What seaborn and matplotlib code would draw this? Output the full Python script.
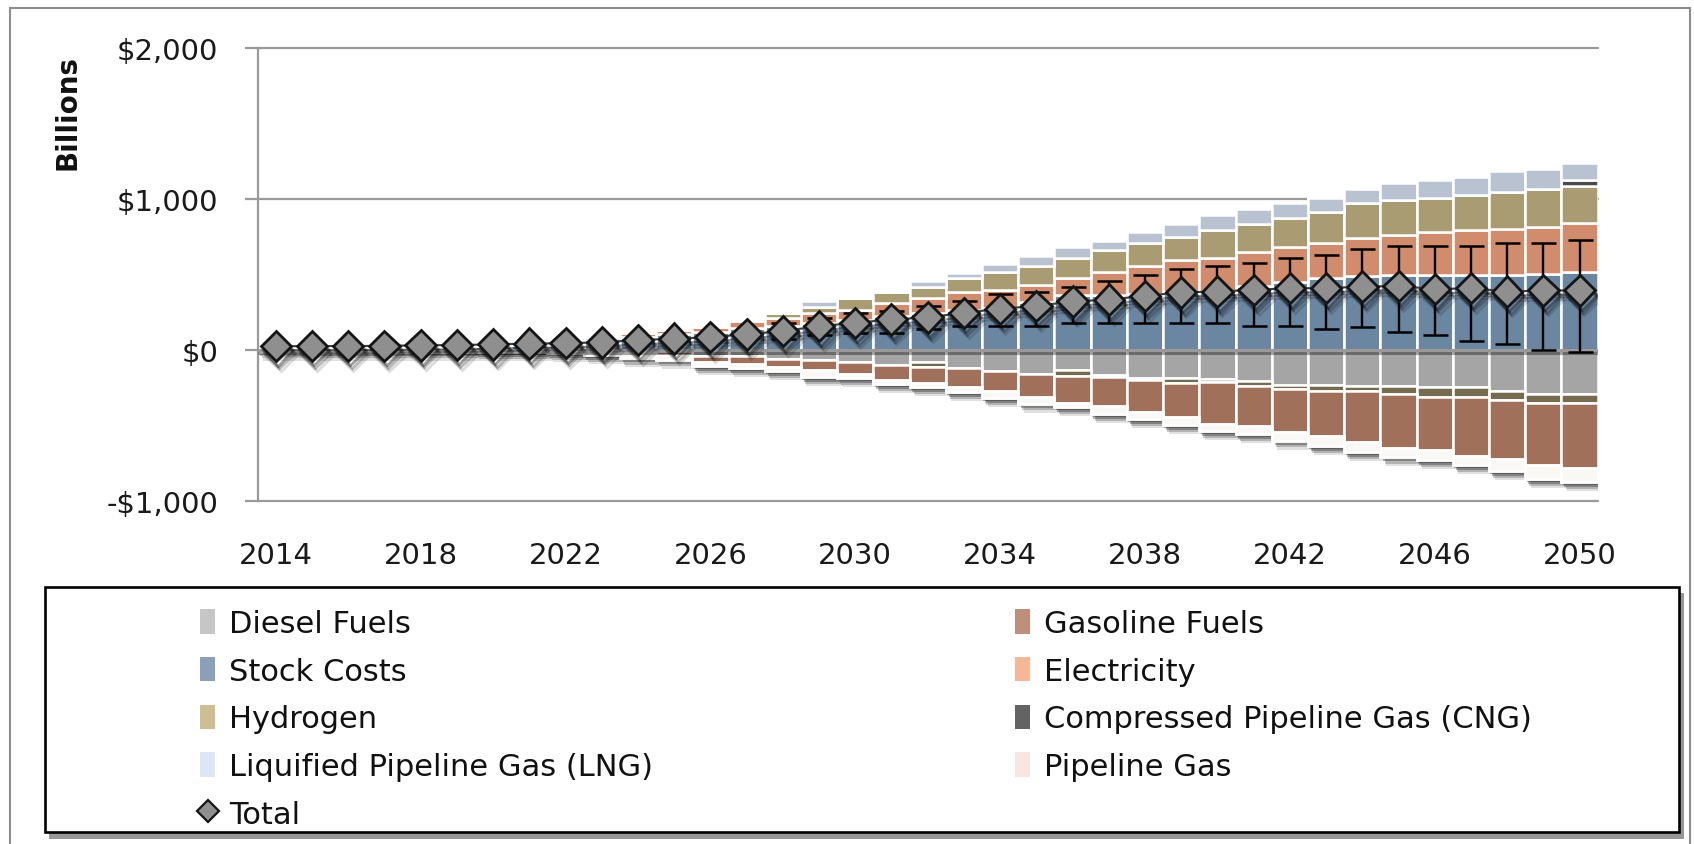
import matplotlib
matplotlib.use("Agg")
import matplotlib.pyplot as plt
import matplotlib.patheffects as pe
from matplotlib.patches import Rectangle, Patch
from matplotlib.lines import Line2D
import numpy as np
import seaborn as sns

# ---------------- data (billions of dollars) ----------------
years = list(range(2014, 2051))
x_tick_labels = ["2014", "2018", "2022", "2026", "2030", "2034", "2038", "2042", "2046", "2050"]
y_tick_values = [-1000, 0, 1000, 2000]
y_tick_labels = ["-$1,000", "$0", "$1,000", "$2,000"]

stock = [8, 10, 12, 14, 16, 20, 26, 30, 35, 62, 83, 105, 118, 144, 160, 177, 199, 221, 242, 264,
         275, 318, 360, 365, 372, 380, 385, 424, 450, 478, 488, 493, 493, 498, 498, 502, 515]
electricity = [0, 0, 0, 0, 0, 0, 0, 0, 5, 25, 28, 28, 33, 48, 51, 65, 65, 87, 103, 120,
               120, 110, 116, 150, 180, 212, 222, 222, 233, 227, 252, 267, 288, 297, 301, 314, 322]
hydrogen = [0, 0, 0, 0, 0, 0, 0, 0, 0, 0, 0, 0, 0, 0, 31, 42, 81, 76, 72, 92,
            120, 126, 131, 149, 153, 152, 188, 190, 192, 207, 234, 231, 225, 229, 244, 249, 250]
cng = [0, 0, 0, 0, 0, 0, 0, 0, 0, 0, 0, 0, 0, 0, 0, 0, 0, 0, 0, 0,
       0, 0, 0, 0, 0, 0, 0, 0, 0, 0, 0, 0, 0, 0, 0, 0, 39]
lng = [0, 0, 0, 0, 0, 0, 0, 0, 0, 0, 0, 0, 0, 0, 0, 39, 0, 0, 39, 35,
       55, 70, 76, 59, 76, 88, 96, 94, 94, 94, 91, 114, 116, 120, 138, 131, 109]
diesel = [0, 0, 0, 0, 0, 0, 0, 0, 0, -5, -5, -8, -38, -43, -59, -65, -77, -99, -77, -117,
          -140, -159, -135, -166, -189, -185, -195, -208, -235, -230, -241, -241, -248, -248, -271, -293, -293]
hydrogen_neg = [0, 0, 0, 0, 0, 0, 0, 0, 0, 0, 0, 0, 0, 0, 0, 0, 0, 0, -36, 0,
                0, 0, -41, -12, -12, -34, -15, -33, -22, -41, -30, -52, -61, -61, -61, -61, -61]
gasoline = [-3, -3, -3, -3, -3, -3, -5, -5, -6, -12, -18, -24, -39, -52, -54, -70, -81, -98, -106, -131,
            -131, -150, -178, -192, -210, -226, -280, -265, -289, -298, -338, -355, -354, -395, -390, -407, -429]
pipeline = [-8, -8, -8, -8, -8, -8, -10, -12, -15, -20, -28, -32, -31, -25, -29, -46, -30, -29, -25, -30,
            -47, -46, -25, -54, -47, -52, -47, -49, -54, -70, -68, -58, -66, -59, -81, -92, -93]
total = [24, 25, 25, 27, 30, 32, 36, 42, 44, 50, 65, 74, 84, 103, 124, 157, 179, 201, 215, 245,
         272, 290, 321, 332, 358, 380, 386, 397, 408, 408, 419, 423, 402, 408, 386, 393, 393]
total_hi = [27, 28, 28, 30, 33, 36, 40, 47, 50, 57, 74, 85, 98, 125, 179, 212, 245, 255, 288, 321,
            369, 380, 419, 456, 496, 533, 554, 572, 605, 627, 666, 688, 688, 688, 707, 707, 725]
total_lo = [21, 22, 22, 24, 27, 28, 32, 37, 38, 43, 56, 63, 70, 81, 74, 96, 114, 114, 135, 157,
            157, 157, 175, 175, 175, 175, 175, 157, 157, 135, 153, 118, 96, 59, 37, 0, -17]

# ---------------- style ----------------
sns.set_style("white")
plt.rcParams['font.family'] = ['DejaVu Sans']

bar_colors = {
    "stock": "#6b86a0", "electricity": "#d18c6d", "hydrogen": "#a99c72", "cng": "#4a4a4a",
    "lng": "#b9c2d0", "diesel": "#a5a5a5", "hydrogen_neg": "#756b4e", "gasoline": "#a1705a",
    "pipeline": "#faf8f5",
}
legend_colors = {
    "diesel": "#c6c6c6", "gasoline": "#bf8f7b", "stock": "#8aa0b8", "electricity": "#f5b795",
    "hydrogen": "#cdbf92", "cng": "#636363", "lng": "#dde7f3", "pipeline": "#f9e6e1",
}
grid_col = "#9a9a9a"

W, H = 1694, 845
fig = plt.figure(figsize=(W / 100, H / 100), dpi=100)


def fx(px):
    return px / W


def fy(py):
    return 1 - py / H


ax = fig.add_axes([fx(257.7), fy(502), fx(1597.7) - fx(257.7), fy(48.6) - fy(502)])
x = np.arange(len(years))

pos_series = [(stock, "stock"), (electricity, "electricity"), (hydrogen, "hydrogen"),
              (cng, "cng"), (lng, "lng")]
neg_series = [(diesel, "diesel"), (hydrogen_neg, "hydrogen_neg"), (gasoline, "gasoline"),
              (pipeline, "pipeline")]

pos_total = np.sum([np.array(v, float) for v, _ in pos_series], axis=0)
neg_total = np.sum([np.array(v, float) for v, _ in neg_series], axis=0)

# white underlay carrying the soft drop shadow of each column
shadow_fx = [pe.SimplePatchShadow(offset=(1.0, -2.0), shadow_rgbFace="black", alpha=0.28),
             pe.SimplePatchShadow(offset=(2.0, -3.5), shadow_rgbFace="black", alpha=0.28),
             pe.SimplePatchShadow(offset=(3.0, -5.0), shadow_rgbFace="black", alpha=0.20),
             pe.SimplePatchShadow(offset=(4.0, -6.5), shadow_rgbFace="black", alpha=0.12),
             pe.Normal()]
ax.bar(x, pos_total - neg_total, bottom=neg_total, width=1.0, color="#fbfaf8",
       edgecolor="white", linewidth=1.8, zorder=1.5, path_effects=shadow_fx)

bottom = np.zeros(len(x))
for vals, key in pos_series:
    v = np.array(vals, float)
    ax.bar(x, v, bottom=bottom, width=1.0, color=bar_colors[key], edgecolor="white",
           linewidth=1.8, zorder=2)
    bottom += v

bottom = np.zeros(len(x))
for vals, key in neg_series:
    v = np.array(vals, float)
    ax.bar(x, v, bottom=bottom, width=1.0, color=bar_colors[key], edgecolor="white",
           linewidth=1.8, zorder=2)
    bottom += v

# zero axis line with shadow
ax.axhline(0, color=grid_col, lw=2.2, zorder=3,
           path_effects=[pe.SimpleLineShadow(offset=(1, -2.5), alpha=0.35), pe.Normal()])

# gridlines
for yv in y_tick_values:
    if yv != 0:
        ax.axhline(yv, color=grid_col, lw=1.6, zorder=0.5, clip_on=False)

# total with error bars
t = np.array(total, float)
ax.errorbar(x, t, yerr=[t - np.array(total_lo, float), np.array(total_hi, float) - t],
            fmt="none", ecolor="black", elinewidth=1.7, capsize=9, capthick=1.8, zorder=4)
sns.lineplot(x=x, y=t, ax=ax, color="#3c3c3c", lw=1.5, marker="D", markersize=15.5,
             markerfacecolor="#8f8f8f", markeredgecolor="#151515", markeredgewidth=2.0,
             zorder=5,
             path_effects=[pe.SimpleLineShadow(offset=(1.5, -3), shadow_color="black", alpha=0.38),
                           pe.SimpleLineShadow(offset=(2.5, -5), shadow_color="black", alpha=0.28),
                           pe.SimpleLineShadow(offset=(3.5, -7), shadow_color="black", alpha=0.14),
                           pe.Normal()])

ax.set_xlim(-0.5, len(x) - 0.5)
ax.set_ylim(-1000, 2000)
ax.set_xlabel("")
ax.set_ylabel("")
ax.set_yticks(y_tick_values)
ax.set_yticklabels(y_tick_labels, fontsize=21, color="#1a1a1a")
ax.set_xticks(x[::4])
ax.set_xticklabels(x_tick_labels, fontsize=21, color="#1a1a1a")
ax.tick_params(axis="y", length=9.4, width=1.6, color=grid_col, pad=19, left=True)
ax.tick_params(axis="x", length=0, pad=29)
for s in ["top", "right", "bottom"]:
    ax.spines[s].set_visible(False)
ax.spines["left"].set_color(grid_col)
ax.spines["left"].set_linewidth(1.6)
ax.grid(False)

fig.text(fx(67), fy(113), "Billions", rotation=90, fontsize=20, fontweight="bold",
         ha="center", va="center", color="#111111")

# outer chart border
fig.add_artist(Rectangle((fx(10), fy(860)), fx(1690) - fx(10), fy(9) - fy(860),
                         transform=fig.transFigure, fill=False, edgecolor="#8e8e8e",
                         lw=1.5, zorder=0))

# legend box with shadow
fig.add_artist(Rectangle((fx(49), fy(840)), fx(1684) - fx(49), fy(594) - fy(840),
                         transform=fig.transFigure, facecolor="#404040", edgecolor="none",
                         alpha=0.55, zorder=1))
fig.add_artist(Rectangle((fx(45), fy(833)), fx(1679) - fx(45), fy(588) - fy(833),
                         transform=fig.transFigure, facecolor="white", edgecolor="black",
                         lw=1.9, zorder=2))

total_handle = Line2D([], [], marker="D", color="#3c3c3c", ls="none", markersize=11,
                      markerfacecolor="#8f8f8f", markeredgecolor="#151515", markeredgewidth=1.6)
h1 = [Patch(facecolor=legend_colors["diesel"], edgecolor="none"),
      Patch(facecolor=legend_colors["stock"], edgecolor="none"),
      Patch(facecolor=legend_colors["hydrogen"], edgecolor="none"),
      Patch(facecolor=legend_colors["lng"], edgecolor="none"),
      total_handle]
l1 = ["Diesel Fuels", "Stock Costs", "Hydrogen", "Liquified Pipeline Gas (LNG)", "Total"]
h2 = [Patch(facecolor=legend_colors["gasoline"], edgecolor="none"),
      Patch(facecolor=legend_colors["electricity"], edgecolor="none"),
      Patch(facecolor=legend_colors["cng"], edgecolor="none"),
      Patch(facecolor=legend_colors["pipeline"], edgecolor="none")]
l2 = ["Gasoline Fuels", "Electricity", "Compressed Pipeline Gas (CNG)", "Pipeline Gas"]

common = dict(loc="upper left", frameon=False, fontsize=22, handlelength=0.5,
              handleheight=0.85, handletextpad=0.45, labelspacing=0.61, borderpad=0,
              borderaxespad=0)
for hs, ls, px in [(h1, l1, 200), (h2, l2, 1015)]:
    leg = fig.legend(hs, ls, bbox_to_anchor=(fx(px), fy(610)), **common)
    leg.set_zorder(5)
    for txt in leg.get_texts():
        txt.set_color("#111111")

fig.savefig("out.png", dpi=100, facecolor="white")
